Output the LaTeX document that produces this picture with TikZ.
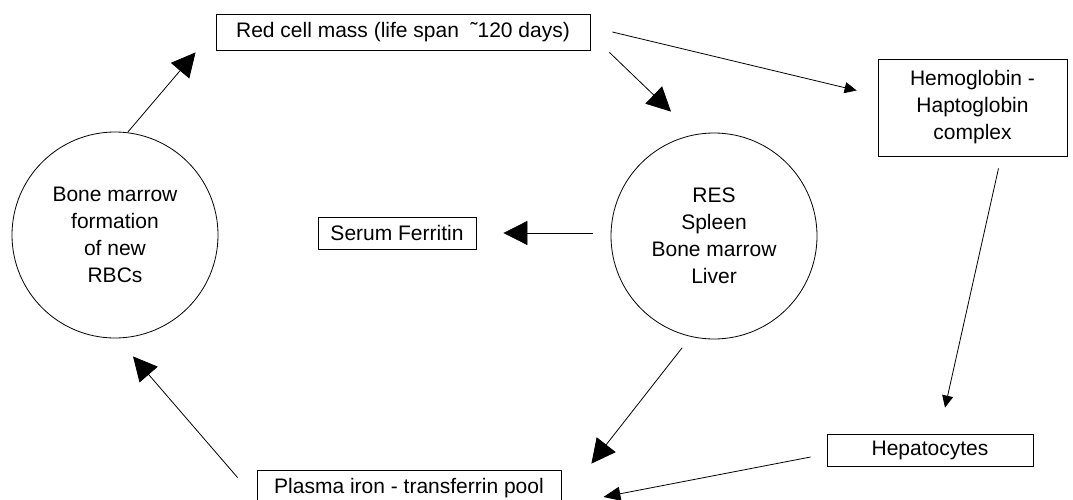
\documentclass[tikz,border=0pt]{standalone}
\usepackage{fontspec}
\setmainfont{Liberation Sans}
\usetikzlibrary{arrows.meta}

\begin{document}
\begin{tikzpicture}[x=1pt,y=-1pt,->,>={Triangle[length=24pt,width=24pt]},line width=0.8pt,
  every node/.style={font=\fontsize{21}{27}\selectfont},
  circ/.style={circle,draw,minimum size=206pt,inner sep=0pt,align=center},
  box/.style={rectangle,draw,inner sep=0pt,align=center},
  small head/.style={-{Triangle[length=12pt,width=11pt]}},
  mid head/.style={-{Triangle[length=17pt,width=14pt]}}]
  \useasboundingbox (0,0) rectangle (1073,500);
  % circles and boxes, placed at pixel positions of the scan
  \node[circ] (bm) at (115,235) {Bone marrow\\formation\\of new\\RBCs};
  \node[circ] (res) at (714,236) {RES\\Spleen\\Bone marrow\\Liver};
  \node[box, minimum width=374pt, minimum height=36pt] (rcm) at (403,32) {Red cell mass (life span \ ˜120 days)};
  \node[box, minimum width=189pt, minimum height=97pt] (hh) at (972.5,107.5) {Hemoglobin -\\Haptoglobin\\complex};
  \node[box, minimum width=158pt, minimum height=32pt] (sf) at (397,233) {Serum Ferritin};
  \node[box, minimum width=206pt, minimum height=32pt] (hep) at (930,450) {Hepatocytes};
  \node[box, minimum width=304pt, minimum height=36pt] (pi) at (409,488) {Plasma iron - transferrin pool};

  \path (bm.83) edge ([xshift=-20pt,yshift=-2pt]rcm.south west)
  ([xshift=19pt,yshift=-2pt]rcm.south east) edge ([xshift=-43pt,yshift=21pt]res.north)
  ([xshift=22pt]rcm.east) edge[small head] ([xshift=-21pt,yshift=17pt]hh.west)
  ([xshift=-18pt,yshift=3pt]res.west) edge ([xshift=27pt]sf.east)
  ([xshift=26pt,yshift=-12pt]hh.south) edge[small head] ([xshift=15pt,yshift=26pt]hep.north)
  (res.257) edge[shorten <=14pt] ([xshift=30pt,yshift=6pt]pi.north east)
  ([xshift=-16pt,yshift=-7pt]hep.west) edge[mid head] ([xshift=42pt,yshift=-9pt]pi.east)
  ([xshift=-19pt,yshift=-8pt]pi.north west) edge ([xshift=18pt,yshift=-18pt]bm.south)
            ;
\end{tikzpicture}
\end{document}
